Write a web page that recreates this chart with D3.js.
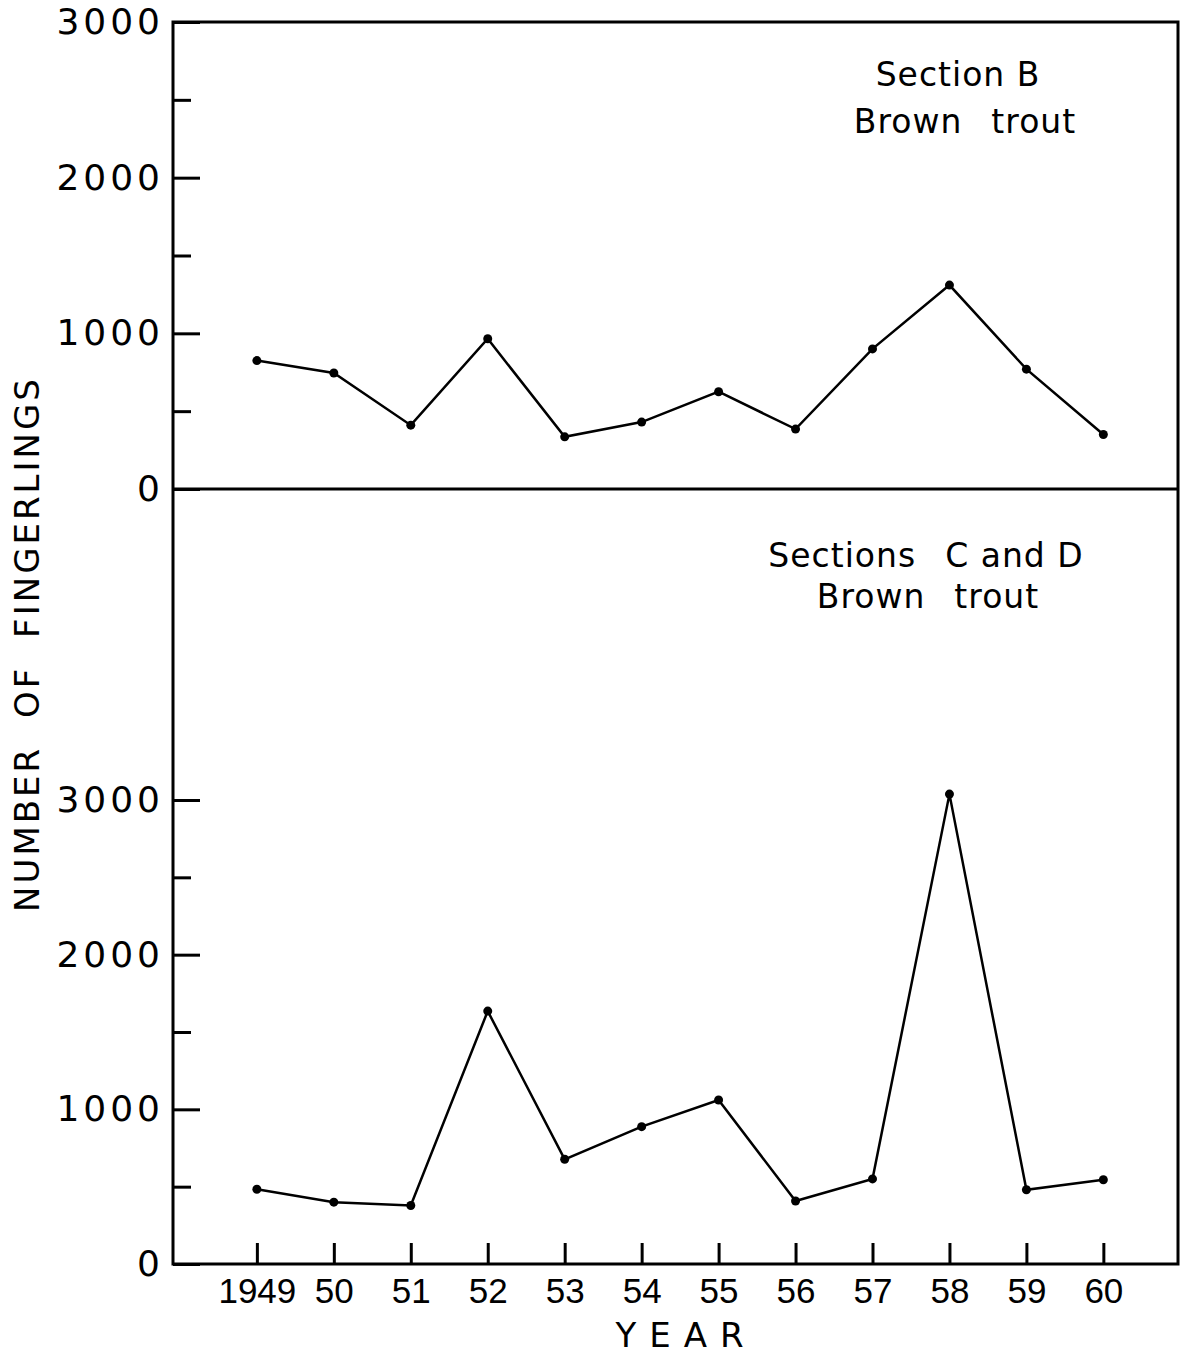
<!DOCTYPE html>
<html>
<head>
<meta charset="utf-8">
<script src="https://cdn.jsdelivr.net/npm/d3@7"></script>
<style>
  body { margin: 0; background: #fff; }
  svg { display: block; }
  .axis text { font-family: "DejaVu Sans", sans-serif; fill: #000; }
  .axis line { stroke: #000; stroke-width: 3; }
  .axis path { display: none; }
  .label { font-family: "DejaVu Sans", sans-serif; fill: #000; }
</style>
</head>
<body>
<div id="chart"></div>
<script>
// Data (number of fingerlings, brown trout)
var years = [1949, 1950, 1951, 1952, 1953, 1954, 1955, 1956, 1957, 1958, 1959, 1960];
var sectionB = [825, 745, 410, 965, 335, 430, 625, 385, 900, 1310, 770, 350];
var sectionCD = [483, 400, 378, 1635, 677, 888, 1060, 407, 550, 3038, 480, 545];
var majorTicks = [0, 1000, 2000, 3000];
var minorTicks = [500, 1500, 2500];

var width = 1182, height = 1354;

// frame edges
var frameL = 173, frameR = 1178, frameT = 22, frameMid = 489, frameB = 1264;

var svg = d3.select("#chart").append("svg")
  .attr("width", width)
  .attr("height", height);

var xScale = d3.scaleLinear()
  .domain([1947.91, 1960.97])
  .range([frameL, frameR]);

// top panel: 3000 sits on the top edge
var yTop = d3.scaleLinear()
  .domain([0, 3000])
  .range([frameMid, frameT]);

// bottom panel: 0..3000 only uses the lower part
var yBottom = d3.scaleLinear()
  .domain([0, 3000])
  .range([frameB, 800]);

function drawYAxis(scale) {
  var major = d3.axisLeft(scale)
    .tickValues(majorTicks)
    .tickSize(-27)
    .tickPadding(9)
    .tickFormat(d3.format("d"));

  var minor = d3.axisLeft(scale)
    .tickValues(minorTicks)
    .tickSize(-18)
    .tickFormat("");

  svg.append("g")
    .attr("class", "y axis")
    .attr("transform", "translate(" + frameL + ",0)")
    .call(major)
    .selectAll("text")
      .style("font-size", "36px")
      .style("letter-spacing", "4px");

  svg.append("g")
    .attr("class", "y axis minor")
    .attr("transform", "translate(" + frameL + ",0)")
    .call(minor);
}

drawYAxis(yTop);
drawYAxis(yBottom);

// x axis with ticks pointing up into the plot
var xAxis = d3.axisBottom(xScale)
  .tickValues(years)
  .tickSize(-21)
  .tickPadding(14)
  .tickFormat(function(d) { return d === 1949 ? "1949" : String(d).slice(2); });

svg.append("g")
  .attr("class", "x axis")
  .attr("transform", "translate(0," + frameB + ")")
  .call(xAxis)
  .selectAll("text")
    .style("font-family", "'Liberation Sans', sans-serif")
    .style("font-size", "35px");

// frame and the divider between panels
svg.append("rect")
  .attr("x", frameL)
  .attr("y", frameT)
  .attr("width", frameR - frameL)
  .attr("height", frameB - frameT)
  .attr("fill", "none")
  .attr("stroke", "#000")
  .attr("stroke-width", 3);

svg.append("line")
  .attr("x1", frameL).attr("x2", frameR)
  .attr("y1", frameMid).attr("y2", frameMid)
  .attr("stroke", "#000")
  .attr("stroke-width", 3);

// series lines and points
function drawSeries(values, scale) {
  var data = years.map(function(y, i) { return {year: y, value: values[i]}; });

  var line = d3.line()
    .x(function(d) { return xScale(d.year); })
    .y(function(d) { return scale(d.value); });

  svg.append("path")
    .datum(data)
    .attr("d", line)
    .attr("fill", "none")
    .attr("stroke", "#000")
    .attr("stroke-width", 2.5);

  svg.append("g").selectAll("circle")
    .data(data)
    .enter().append("circle")
      .attr("cx", function(d) { return xScale(d.year); })
      .attr("cy", function(d) { return scale(d.value); })
      .attr("r", 4.5)
      .attr("fill", "#000");
}

drawSeries(sectionB, yTop);
drawSeries(sectionCD, yBottom);

// panel titles
var titles = [
  {text: "Section B", x: 958, y: 86},
  {text: "Brown\u2002 trout", x: 965, y: 133},
  {text: "Sections\u2002 C and D", x: 926, y: 567},
  {text: "Brown\u2002 trout", x: 928, y: 608}
];

svg.selectAll(".title")
  .data(titles)
  .enter().append("text")
    .attr("class", "label title")
    .attr("x", function(d) { return d.x; })
    .attr("y", function(d) { return d.y; })
    .attr("text-anchor", "middle")
    .style("font-size", "33px")
    .style("letter-spacing", "1px")
    .text(function(d) { return d.text; });

// axis titles
svg.append("text")
  .attr("class", "label")
  .attr("transform", "translate(39,644) rotate(-90)")
  .attr("text-anchor", "middle")
  .style("font-size", "34px")
  .style("letter-spacing", "3px")
  .style("word-spacing", "14px")
  .text("NUMBER OF FINGERLINGS");

svg.append("text")
  .attr("class", "label")
  .attr("x", 686)
  .attr("y", 1347)
  .attr("text-anchor", "middle")
  .style("font-size", "34px")
  .style("letter-spacing", "13px")
  .text("YEAR");
</script>
</body>
</html>
